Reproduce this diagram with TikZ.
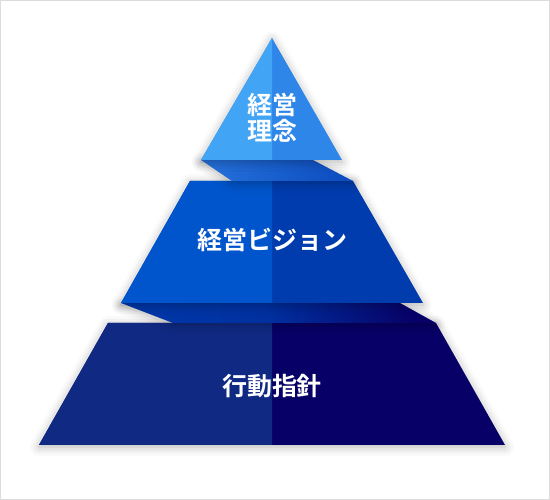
\documentclass[tikz,border=0pt]{standalone}
\usepackage{fontspec}
\newfontfamily\jpfont{Noto Sans CJK JP Bold}
\usetikzlibrary{shadows.blur}
\definecolor{topL}{HTML}{42A4F5}
\definecolor{topR}{HTML}{2E86E9}
\definecolor{midL}{HTML}{0055CC}
\definecolor{midR}{HTML}{003CAE}
\definecolor{botL}{HTML}{102A84}
\definecolor{botR}{HTML}{070066}
\definecolor{bandA}{HTML}{0038A9}
\definecolor{bandB}{HTML}{0030A0}
\definecolor{bandC}{HTML}{2671DC}
\definecolor{bandD}{HTML}{0B4BBE}
\definecolor{frame}{HTML}{DCDCDC}
\pgfdeclarehorizontalshading{lowband}{100bp}{color(0bp)=(bandA); color(25bp)=(bandA); color(48bp)=(bandB); color(72bp)=(botR); color(100bp)=(botR)}
\begin{document}
\begin{tikzpicture}[
    x=1pt,y=-1pt,
    tier/.style={blur shadow={shadow xshift=0pt,shadow yshift=-2pt,shadow blur radius=9pt,shadow opacity=30}},
    tierlabel/.style={text=white,font=\jpfont\fontsize{25}{26}\selectfont,align=center,inner sep=0pt},
  ]
  \useasboundingbox (0,0) rectangle (550,500);
  \draw[frame] (0.5,0.5) rectangle (549.5,499.5);
  % bottom tier
  \fill[tier,botR] (108,323) -- (436,323) -- (505,445) -- (39,445) -- cycle;
  \fill[botL] (108,323) -- (272,323) -- (272,445) -- (39,445) -- cycle;
  % band between middle and bottom
  \shade[tier,shading=lowband] (121,303) -- (400,303) -- (436,323) -- (173,323) -- cycle;
  % middle tier
  \fill[tier,midR] (190,181) -- (353,181) -- (423,303) -- (121,303) -- cycle;
  \fill[midL] (190,181) -- (272,181) -- (272,303) -- (121,303) -- cycle;
  % band between top and middle
  \shade[tier,left color=bandC,right color=bandD] (201,160) -- (313,160) -- (353,181) -- (232,181) -- cycle;
  % top tier
  \fill[tier,topR] (272,38) -- (342,160) -- (201,160) -- cycle;
  \fill[topL] (272,38) -- (272,160) -- (201,160) -- cycle;
  % labels
  \node[tierlabel] (philosophy) at (272,118) {経営\\理念};
  \node[tierlabel] (vision) at (272,240) {経営ビジョン};
  \node[tierlabel] (guideline) at (272,386) {行動指針};
\end{tikzpicture}
\end{document}
